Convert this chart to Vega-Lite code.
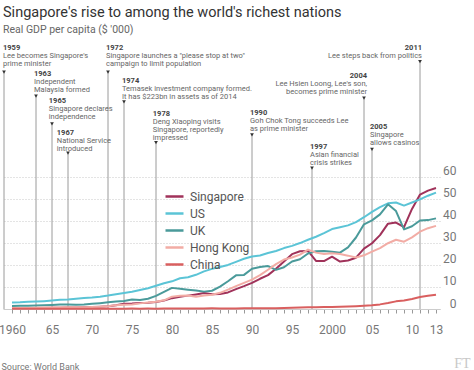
{
  "$schema": "https://vega.github.io/schema/vega-lite/v6.json",
  "width": 437,
  "height": 269,
  "autosize": "none",
  "padding": {"left": 3, "right": 34, "top": 40, "bottom": 61},
  "background": "white",
  "title": {
    "text": "Singapore's rise to among the world's richest nations",
    "subtitle": "Real GDP per capita ($ '000)",
    "anchor": "start",
    "frame": "group",
    "offset": 4,
    "font": "Roboto",
    "fontSize": 14.5,
    "fontWeight": "normal",
    "color": "#333333",
    "subtitleFont": "Roboto",
    "subtitleFontSize": 10.5,
    "subtitleColor": "#666666",
    "subtitlePadding": 4
  },
  "config": {
    "view": {"stroke": null},
    "font": "Roboto",
    "axisX": {
      "grid": false,
      "domain": true,
      "domainColor": "#cccccc",
      "domainWidth": 1,
      "ticks": true,
      "tickSize": 4,
      "tickColor": "#999999",
      "tickWidth": 1,
      "labelFont": "Roboto",
      "labelFontSize": 12,
      "labelColor": "#777777",
      "labelPadding": 11,
      "labelFlush": false,
      "labelOverlap": false
    },
    "axisY": {
      "grid": true,
      "gridDash": [1, 2],
      "gridColor": "#c8c8c8",
      "gridWidth": 1,
      "domain": false,
      "ticks": false,
      "labelAlign": "right",
      "labelPadding": 16,
      "labelBaseline": "alphabetic",
      "labelOffset": -2,
      "labelFont": "Roboto",
      "labelFontSize": 12,
      "labelColor": "#777777"
    }
  },
  "datasets": {
    "gdp": [
      {"year": 1960, "Singapore": 0.43, "US": 3.01, "UK": 1.40, "Hong Kong": 0.43, "China": 0.09},
      {"year": 1961, "Singapore": 0.45, "US": 3.07, "UK": 1.47, "Hong Kong": 0.44, "China": 0.08},
      {"year": 1962, "Singapore": 0.47, "US": 3.24, "UK": 1.53, "Hong Kong": 0.49, "China": 0.07},
      {"year": 1963, "Singapore": 0.51, "US": 3.38, "UK": 1.61, "Hong Kong": 0.57, "China": 0.07},
      {"year": 1964, "Singapore": 0.49, "US": 3.57, "UK": 1.75, "Hong Kong": 0.64, "China": 0.08},
      {"year": 1965, "Singapore": 0.52, "US": 3.83, "UK": 1.87, "Hong Kong": 0.71, "China": 0.10},
      {"year": 1966, "Singapore": 0.57, "US": 4.15, "UK": 1.99, "Hong Kong": 0.72, "China": 0.10},
      {"year": 1967, "Singapore": 0.63, "US": 4.34, "UK": 2.06, "Hong Kong": 0.76, "China": 0.09},
      {"year": 1968, "Singapore": 0.71, "US": 4.70, "UK": 1.95, "Hong Kong": 0.74, "China": 0.09},
      {"year": 1969, "Singapore": 0.81, "US": 5.03, "UK": 2.10, "Hong Kong": 0.83, "China": 0.10},
      {"year": 1970, "Singapore": 0.93, "US": 5.23, "UK": 2.35, "Hong Kong": 0.93, "China": 0.11},
      {"year": 1971, "Singapore": 1.07, "US": 5.61, "UK": 2.65, "Hong Kong": 1.06, "China": 0.12},
      {"year": 1972, "Singapore": 1.26, "US": 6.09, "UK": 3.03, "Hong Kong": 1.30, "China": 0.13},
      {"year": 1973, "Singapore": 1.69, "US": 6.73, "UK": 3.43, "Hong Kong": 1.76, "China": 0.16},
      {"year": 1974, "Singapore": 2.34, "US": 7.23, "UK": 3.67, "Hong Kong": 1.96, "China": 0.16},
      {"year": 1975, "Singapore": 2.49, "US": 7.80, "UK": 4.30, "Hong Kong": 2.09, "China": 0.18},
      {"year": 1976, "Singapore": 2.75, "US": 8.59, "UK": 4.14, "Hong Kong": 2.56, "China": 0.17},
      {"year": 1977, "Singapore": 2.85, "US": 9.45, "UK": 4.68, "Hong Kong": 2.98, "China": 0.19},
      {"year": 1978, "Singapore": 3.19, "US": 10.57, "UK": 5.98, "Hong Kong": 3.32, "China": 0.16},
      {"year": 1979, "Singapore": 3.90, "US": 11.67, "UK": 7.80, "Hong Kong": 3.95, "China": 0.18},
      {"year": 1980, "Singapore": 4.93, "US": 12.58, "UK": 9.60, "Hong Kong": 5.62, "China": 0.19},
      {"year": 1981, "Singapore": 5.60, "US": 13.98, "UK": 9.20, "Hong Kong": 5.97, "China": 0.20},
      {"year": 1982, "Singapore": 6.08, "US": 14.43, "UK": 8.80, "Hong Kong": 6.10, "China": 0.20},
      {"year": 1983, "Singapore": 6.63, "US": 15.54, "UK": 8.40, "Hong Kong": 5.55, "China": 0.22},
      {"year": 1984, "Singapore": 7.23, "US": 17.12, "UK": 7.90, "Hong Kong": 6.18, "China": 0.25},
      {"year": 1985, "Singapore": 6.75, "US": 18.24, "UK": 8.30, "Hong Kong": 6.51, "China": 0.29},
      {"year": 1986, "Singapore": 6.80, "US": 19.07, "UK": 10.20, "Hong Kong": 7.36, "China": 0.28},
      {"year": 1987, "Singapore": 7.54, "US": 20.04, "UK": 12.60, "Hong Kong": 8.84, "China": 0.25},
      {"year": 1988, "Singapore": 9.02, "US": 21.42, "UK": 15.30, "Hong Kong": 10.41, "China": 0.28},
      {"year": 1989, "Singapore": 10.39, "US": 22.86, "UK": 15.50, "Hong Kong": 11.88, "China": 0.31},
      {"year": 1990, "Singapore": 11.86, "US": 23.89, "UK": 18.30, "Hong Kong": 13.38, "China": 0.32},
      {"year": 1991, "Singapore": 13.74, "US": 24.34, "UK": 19.10, "Hong Kong": 15.40, "China": 0.33},
      {"year": 1992, "Singapore": 15.40, "US": 25.42, "UK": 19.50, "Hong Kong": 17.84, "China": 0.37},
      {"year": 1993, "Singapore": 18.29, "US": 26.39, "UK": 17.80, "Hong Kong": 20.39, "China": 0.38},
      {"year": 1994, "Singapore": 21.55, "US": 27.69, "UK": 19.00, "Hong Kong": 22.48, "China": 0.47},
      {"year": 1995, "Singapore": 24.92, "US": 28.69, "UK": 21.60, "Hong Kong": 23.41, "China": 0.61},
      {"year": 1996, "Singapore": 26.23, "US": 29.97, "UK": 22.60, "Hong Kong": 24.70, "China": 0.71},
      {"year": 1997, "Singapore": 26.38, "US": 31.46, "UK": 25.20, "Hong Kong": 27.01, "China": 0.78},
      {"year": 1998, "Singapore": 21.83, "US": 32.85, "UK": 26.30, "Hong Kong": 25.63, "China": 0.83},
      {"year": 1999, "Singapore": 21.80, "US": 34.52, "UK": 26.40, "Hong Kong": 24.99, "China": 0.87},
      {"year": 2000, "Singapore": 23.79, "US": 36.33, "UK": 26.00, "Hong Kong": 25.37, "China": 0.95},
      {"year": 2001, "Singapore": 21.58, "US": 37.13, "UK": 25.60, "Hong Kong": 24.98, "China": 1.05},
      {"year": 2002, "Singapore": 22.02, "US": 38.00, "UK": 28.00, "Hong Kong": 24.25, "China": 1.15},
      {"year": 2003, "Singapore": 23.32, "US": 39.49, "UK": 32.50, "Hong Kong": 23.37, "China": 1.29},
      {"year": 2004, "Singapore": 27.41, "US": 41.72, "UK": 38.50, "Hong Kong": 24.40, "China": 1.51},
      {"year": 2005, "Singapore": 29.87, "US": 44.12, "UK": 40.30, "Hong Kong": 26.09, "China": 1.75},
      {"year": 2006, "Singapore": 33.58, "US": 46.30, "UK": 43.00, "Hong Kong": 27.69, "China": 2.10},
      {"year": 2007, "Singapore": 38.80, "US": 48.05, "UK": 47.60, "Hong Kong": 29.90, "China": 2.69},
      {"year": 2008, "Singapore": 39.30, "US": 48.40, "UK": 44.50, "Hong Kong": 31.49, "China": 3.47},
      {"year": 2009, "Singapore": 37.20, "US": 47.00, "UK": 36.20, "Hong Kong": 30.59, "China": 3.84},
      {"year": 2010, "Singapore": 45.50, "US": 48.40, "UK": 37.60, "Hong Kong": 32.55, "China": 4.56},
      {"year": 2011, "Singapore": 52.00, "US": 49.80, "UK": 40.20, "Hong Kong": 35.14, "China": 5.45},
      {"year": 2012, "Singapore": 53.80, "US": 51.50, "UK": 40.40, "Hong Kong": 36.73, "China": 6.00},
      {"year": 2013, "Singapore": 55.00, "US": 52.90, "UK": 41.20, "Hong Kong": 37.80, "China": 6.50}
    ],
    "events": [
      {"year": 1959, "tx": 1958.875, "ly": 119.2, "tip": 107.7, "label": "1959", "desc": "Lee becomes Singapore's\nprime minister"},
      {"year": 1963, "tx": 1962.75, "ly": 107.3, "tip": 96.8, "label": "1963", "desc": "Independent\nMalaysia formed"},
      {"year": 1965, "tx": 1964.6, "ly": 95.0, "tip": 84.1, "label": "1965", "desc": "Singapore declares\nindependence"},
      {"year": 1967, "tx": 1965.6, "ly": 80.3, "tip": 70.8, "label": "1967", "desc": "National Service\nintroduced"},
      {"year": 1972, "tx": 1971.75, "ly": 119.2, "tip": 107.7, "label": "1972", "desc": "Singapore launches a \"please stop at two\"\ncampaign to limit population"},
      {"year": 1974, "tx": 1973.75, "ly": 104.1, "tip": 94.2, "label": "1974", "desc": "Temasek investment company formed.\nIt has $223bn in assets as of 2014"},
      {"year": 1978, "tx": 1977.6, "ly": 89.2, "tip": 75.6, "label": "1978", "desc": "Deng Xiaoping visits\nSingapore, reportedly\nimpressed"},
      {"year": 1990, "tx": 1989.75, "ly": 89.7, "tip": 79.1, "label": "1990", "desc": "Goh Chok Tong succeeds Lee\nas prime minister"},
      {"year": 1997.5, "tx": 1997.25, "ly": 74.1, "tip": 64.0, "label": "1997", "desc": "Asian financial\ncrisis strikes"},
      {"year": 2004, "tx": 2004.375, "ly": 106.4, "tip": 95.8, "label": "2004", "desc": "Lee Hsien Loong, Lee's son,\nbecomes prime minister"},
      {"year": 2005, "tx": 2004.75, "ly": 83.2, "tip": 72.6, "label": "2005", "desc": "Singapore\nallows casinos"},
      {"year": 2011, "tx": 2011.25, "ly": 119.2, "tip": 112.4, "label": "2011", "desc": "Lee steps back from politics"}
    ]
  },
  "layer": [
    {
      "data": {"name": "events"},
      "mark": {"type": "rule", "color": "#9a9a9a", "strokeWidth": 1},
      "encoding": {
        "x": {"field": "year", "type": "quantitative", "scale": {"domain": [1958.875, 2013.5], "nice": false, "zero": false}},
        "y": {"field": "tip", "type": "quantitative", "scale": {"domain": [0, 122.27], "nice": false}, "axis": {"orient": "right"}},
        "y2": {"datum": 0}
      }
    },
    {
      "data": {"name": "events"},
      "mark": {"type": "point", "shape": "triangle-down", "filled": true, "color": "#333333", "size": 14, "opacity": 1},
      "encoding": {
        "x": {"field": "year", "type": "quantitative"},
        "y": {"field": "tip", "type": "quantitative", "axis": {"orient": "right"}}
      }
    },
    {
      "data": {"name": "events"},
      "transform": [{"filter": "datum.label != '2004' && datum.label != '2011'"}],
      "mark": {"type": "text", "align": "left", "baseline": "alphabetic", "dy": 3, "fontSize": 7.5, "fontWeight": "bold", "color": "#444444"},
      "encoding": {
        "x": {"field": "tx", "type": "quantitative"},
        "y": {"field": "ly", "type": "quantitative", "axis": {"orient": "right"}},
        "text": {"field": "label"}
      }
    },
    {
      "data": {"name": "events"},
      "transform": [{"filter": "datum.label != '2004' && datum.label != '2011'"}],
      "mark": {"type": "text", "align": "left", "baseline": "alphabetic", "dy": 11, "fontSize": 7.5, "color": "#666666", "lineBreak": "\n", "lineHeight": 8},
      "encoding": {
        "x": {"field": "tx", "type": "quantitative"},
        "y": {"field": "ly", "type": "quantitative", "axis": {"orient": "right"}},
        "text": {"field": "desc"}
      }
    },
    {
      "data": {"name": "events"},
      "transform": [{"filter": "datum.label == '2004' || datum.label == '2011'"}],
      "mark": {"type": "text", "align": "right", "baseline": "alphabetic", "dy": 3, "fontSize": 7.5, "fontWeight": "bold", "color": "#444444"},
      "encoding": {
        "x": {"field": "tx", "type": "quantitative"},
        "y": {"field": "ly", "type": "quantitative", "axis": {"orient": "right"}},
        "text": {"field": "label"}
      }
    },
    {
      "data": {"name": "events"},
      "transform": [{"filter": "datum.label == '2004' || datum.label == '2011'"}],
      "mark": {"type": "text", "align": "right", "baseline": "alphabetic", "dy": 11, "fontSize": 7.5, "color": "#666666", "lineBreak": "\n", "lineHeight": 8},
      "encoding": {
        "x": {"field": "tx", "type": "quantitative"},
        "y": {"field": "ly", "type": "quantitative", "axis": {"orient": "right"}},
        "text": {"field": "desc"}
      }
    },
    {
      "data": {"name": "gdp"},
      "transform": [{"fold": ["Singapore", "US", "UK", "Hong Kong", "China"], "as": ["country", "value"]}],
      "mark": {"type": "line", "strokeWidth": 2, "strokeJoin": "round"},
      "encoding": {
        "x": {
          "field": "year", "type": "quantitative",
          "axis": {
            "orient": "bottom",
            "values": [1960,1961,1962,1963,1964,1965,1966,1967,1968,1969,1970,1971,1972,1973,1974,1975,1976,1977,1978,1979,1980,1981,1982,1983,1984,1985,1986,1987,1988,1989,1990,1991,1992,1993,1994,1995,1996,1997,1998,1999,2000,2001,2002,2003,2004,2005,2006,2007,2008,2009,2010,2011,2012,2013],
            "labelExpr": "datum.value == 1960 || datum.value == 2000 ? '' + datum.value : ((datum.value % 5 == 0 || datum.value == 2013) ? slice('' + datum.value, 2) : '')",
            "labelOverlap": false,
            "labelBound": false,
            "labelFlush": false,
            "tickCount": 54,
            "title": "Source: World Bank",
            "titleFont": "Roboto",
            "titleFontSize": 9,
            "titleFontWeight": "normal",
            "titleColor": "#777777",
            "titleAnchor": "start",
            "titleAlign": "left",
            "titleBaseline": "alphabetic",
            "titleX": -2,
            "titleY": 60
          }
        },
        "y": {
          "field": "value", "type": "quantitative",
          "axis": {
            "orient": "right",
            "values": [0, 10, 20, 30, 40, 50, 60],
            "title": "FT",
            "titleFont": "Liberation Serif",
            "titleFontSize": 14,
            "titleFontWeight": "normal",
            "titleColor": "#c8c8c8",
            "titleAngle": 0,
            "titleAlign": "center",
            "titleBaseline": "alphabetic",
            "titleX": 22,
            "titleY": 327
          }
        },
        "color": {
          "field": "country", "type": "nominal",
          "scale": {"domain": ["Singapore", "US", "UK", "Hong Kong", "China"], "range": ["#a0325a", "#5bc4d6", "#4a9a9a", "#f2aca5", "#d95f5f"]},
          "legend": {
            "orient": "none",
            "legendX": 161,
            "legendY": 146,
            "title": null,
            "symbolType": "stroke",
            "symbolStrokeWidth": 2.5,
            "symbolSize": 324,
            "labelFont": "Roboto",
            "labelFontSize": 12,
            "labelColor": "#555555",
            "labelOffset": 5,
            "rowPadding": -6,
            "padding": 0
          }
        },
        "order": {"field": "year", "type": "quantitative"}
      }
    }
  ]
}
